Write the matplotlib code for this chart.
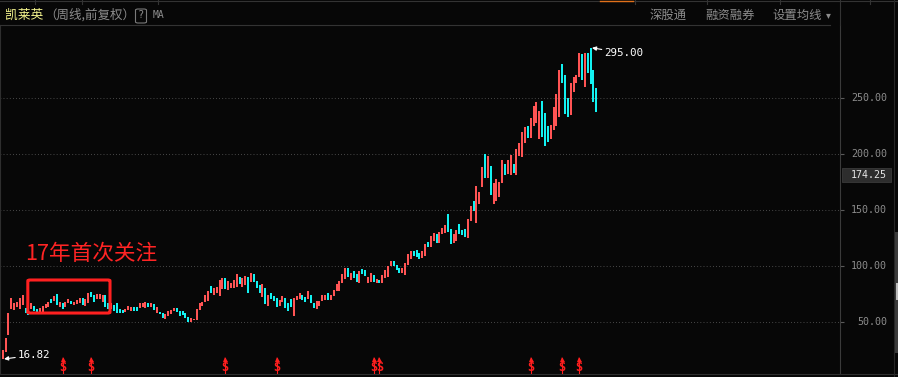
import matplotlib
matplotlib.use("Agg")
import matplotlib.pyplot as plt
import matplotlib.patches as mpatches
from matplotlib.lines import Line2D
import numpy as np

# ---------------- data (weekly, forward-adjusted) ----------------
opens = [16.82, 23, 38, 62, 61, 63, 62, 65, 62.5, 60, 61.6, 64, 61.3, 58.3, 58.9, 62.2, 63.7, 70.2, 69, 75,
         63.7, 66.6, 63.1, 66.6, 69, 65.2, 66, 66.6, 71.1, 64.2, 66.6, 77, 74.1, 70.2, 70.2, 68.1, 74.1, 67.2, 61.3, 65,
         66.6, 61.3, 60.7, 58.9, 60.7, 60.1, 63.1, 63.1, 62.1, 63.1, 62.1, 66.6, 63.7, 66.1, 58.3, 59.2, 58.3, 52.7, 55.7, 56.9,
         59.8, 62.8, 59.8, 59.8, 57.7, 54.8, 49.7, 51.5, 51.8, 60.7, 64.6, 68.2, 68.8, 82.2, 74.1, 75.6, 73.5, 79.5, 89, 78.6,
         80.7, 80.7, 81.6, 89.9, 81.6, 83, 89.9, 86, 92.9, 86.9, 83, 72.6, 80, 64.6, 75.6, 73.2, 71.7, 64.6, 67.6, 71.7,
         67.3, 70.5, 55.7, 69.7, 70.6, 74.1, 72.6, 70.3, 74.1, 67.3, 61.3, 64.3, 68.8, 69.7, 75.6, 69.7, 73.2, 77.7, 77.7, 85.1,
         88.4, 97.9, 87.5, 95.5, 92.9, 85.1, 97.3, 96.4, 85.1, 86, 92, 85.1, 87.5, 84.5, 89, 90.5, 100, 104.5, 100.9, 97.9,
         93.5, 92, 100.9, 106.3, 113.4, 114.3, 111.3, 107.4, 109.2, 121.7, 117.3, 122.3, 128.6, 120.8, 128.3, 129.2, 146.4, 133, 120.8, 122.3,
         137.5, 132.1, 133, 125, 140.5, 158, 138.7, 155.4, 170.8, 200, 178.9, 189.3, 155.4, 158.4, 161.6, 174.4, 191.1, 182.2, 181.3, 191.1,
         181.3, 198.3, 197.7, 209.6, 225, 214, 225.3, 228, 213.7, 247.4, 237, 225, 213, 221.4, 225, 233.4, 280.4, 270.6, 249.7, 235.1,
         255.7, 263.1, 268.5, 289.3, 259.5, 289.9, 295, 275, 258.6]
closes = [25, 36, 58, 71, 67, 68, 71, 74, 58, 56, 66.6, 60, 58.3, 62.1, 64.2, 66, 67.5, 67.2, 73.2, 65.2,
          68.1, 61.3, 68.1, 70.2, 66, 68.1, 69.6, 71.1, 65.2, 70.2, 75.6, 72.6, 68.1, 75, 75, 74.1, 63.7, 61.3, 66.6, 60,
          58.3, 57.7, 58.3, 61.3, 64.2, 63.1, 60.1, 60.1, 66.6, 66.6, 67.5, 63.7, 67.3, 60.7, 63.7, 57.5, 53.9, 57.2, 59.8, 60.7,
          62.8, 59.2, 55.7, 56.3, 53.3, 49.7, 53.9, 52.7, 61.3, 66.7, 68.2, 74.1, 77.7, 76.2, 80.7, 81.6, 87.5, 89, 79.5, 86.6,
          84.5, 87.5, 92.9, 83.9, 89, 91.1, 76.2, 93.5, 86, 80.7, 76.2, 83.9, 66.1, 74.1, 70.5, 68.8, 63.7, 69.7, 73.2, 62.8,
          60.1, 63.7, 71.7, 73.2, 76.2, 69.7, 67.6, 77.7, 66.7, 62.2, 68.8, 68.8, 74.1, 74.1, 69.7, 74.1, 78.6, 83.9, 86.6, 92.9,
          97.9, 90.5, 93.5, 89, 86, 95.5, 92.6, 91.4, 89.9, 93.5, 85.4, 88.1, 85.1, 92, 96.4, 100, 104.8, 100.3, 96.4, 94.1,
          97.9, 102.4, 110.4, 113.4, 108.9, 108.3, 106.3, 113.4, 119.4, 117.3, 127.1, 129.8, 120.8, 130.1, 134.2, 136.6, 130.1, 119.7, 128.6, 132.1,
          128.6, 127.7, 125.9, 142, 153.6, 149.4, 171.4, 166, 188.4, 178.9, 198.3, 163.4, 174.1, 178, 175, 194.7, 181.3, 194.7, 199.1, 183.4,
          204.5, 209.6, 220, 224.1, 214, 231.9, 242.9, 246.5, 238.4, 215.5, 207.5, 211, 225.9, 242.3, 253.6, 275, 263.7, 235.7, 232.8, 263.7,
          268.5, 270.6, 290.5, 266.1, 290.5, 272, 262.2, 246.7, 237.8]
signal_weeks = [21, 31, 78, 96, 130, 132, 185, 196, 202]
yticks = [50, 100, 150, 200, 250]
last_price = 174.25
stock_name = "凯莱英"
period_note = "（周线,前复权）"
menu_items = ["深股通", "融资融券", "设置均线"]
note_text = "17年首次关注"

# ---------------- figure ----------------
W, H = 898, 377
BG = "#070707"
UP = "#ff5454"
DOWN = "#12f2f2"
GRAY = "#8c8c8c"

fig = plt.figure(figsize=(W / 100, H / 100), dpi=100, facecolor=BG)

def fx(px):
    return px / W

def fy(py):
    return 1 - py / H

ax_top_px, ax_bot_px, ax_right_px = 25, 374, 840
ax = fig.add_axes([0, fy(ax_bot_px), fx(ax_right_px), (ax_bot_px - ax_top_px) / H])
ax.set_facecolor(BG)

# pixel scale: value 50 at y=322, 56 px per 50
def val_at(py):
    return 50 + (322 - py) / 1.12

ax.set_ylim(val_at(ax_bot_px), val_at(ax_top_px))
step = 2.854
x0px = 2.7
ax.set_xlim((0 - x0px) / step, (ax_right_px - x0px) / step)

o = np.array(opens, dtype=float)
c = np.array(closes, dtype=float)
x = np.arange(len(o))
cols = [UP if cc >= oo else DOWN for oo, cc in zip(o, c)]
ax.vlines(x, np.minimum(o, c), np.maximum(o, c), colors=cols, lw=1.3, zorder=3, antialiased=False)

# grid
for t in yticks:
    ax.axhline(t, color="#5a5a5a", lw=0.75, dashes=(0.7, 2.3), zorder=1)

ax.spines["top"].set_visible(False)
ax.spines["right"].set_color("#3a3a3a")
ax.spines["left"].set_color("#2e2e2e")
ax.spines["bottom"].set_color("#2e2e2e")
ax.set_xticks([])
ax.yaxis.tick_right()
ax.set_yticks(yticks)
ax.set_yticklabels([])
ax.tick_params(axis="y", length=3, color="#5a5a5a", direction="out")

# right axis labels
blend = matplotlib.transforms.blended_transform_factory(fig.transFigure, ax.transData)
for t in yticks:
    fig.text(fx(887), t, f"{t:.2f}", transform=blend, ha="right", va="center",
             color=GRAY, fontsize=7.2, family="DejaVu Sans Mono")

# last price tag
fig.patches.append(mpatches.Rectangle((fx(842), fy(182)), fx(49), 14 / H, transform=fig.transFigure,
                                      facecolor="#2d2d2d", edgecolor="#3a3a3a", lw=0.6))
fig.text(fx(887), fy(175), f"{last_price:.2f}", ha="right", va="center",
         color="#e6e6e6", fontsize=7.2, family="DejaVu Sans Mono")

# max / min annotations
imax = int(np.argmax(np.maximum(o, c)))
vmax = float(np.maximum(o, c)[imax])
ax.annotate(f"{vmax:.2f}", xy=(imax, vmax), xytext=(10, -4), textcoords="offset points",
            ha="left", va="center", color="white", fontsize=7.8, family="DejaVu Sans Mono",
            arrowprops=dict(arrowstyle="-|>", color="white", lw=0.8, shrinkA=0, shrinkB=1,
                            mutation_scale=6))
imin = int(np.argmin(np.minimum(o, c)))
vmin = float(np.minimum(o, c)[imin])
ax.annotate(f"{vmin:.2f}", xy=(imin, vmin), xytext=(11, 3), textcoords="offset points",
            ha="left", va="center", color="white", fontsize=7.8, family="DejaVu Sans Mono",
            arrowprops=dict(arrowstyle="-|>", color="white", lw=0.8, shrinkA=0, shrinkB=1,
                            mutation_scale=6))

# signal markers along the bottom
tr = matplotlib.transforms.blended_transform_factory(ax.transData, ax.transAxes)
for i in signal_weeks:
    ax.text(i, 0.02, "S", transform=tr, ha="center", va="center", color="#ff1e1e",
            fontsize=8.5, fontweight="bold", family="DejaVu Sans Mono", zorder=5)
    ax.plot([i, i], [0.0, 0.045], transform=tr, color="#ff1e1e", lw=0.8, zorder=5)
    ax.plot([i], [0.042], transform=tr, marker="^", color="#ff1e1e", ms=3.6, mew=0, zorder=5)

# red note and box
ax.add_patch(mpatches.FancyBboxPatch((8.8, 58.0), 28.8, 29.5, boxstyle="round,pad=0,rounding_size=0.8",
                                     fill=False, edgecolor="#ff2020", lw=2.2, zorder=6))
ax.text(7.8, 110.7, note_text, color="#ff2424", fontsize=15.6, ha="left", va="center",
        family=["Noto Sans CJK SC", "DejaVu Sans"], zorder=6)

# header
CJK = ["Noto Sans CJK SC", "DejaVu Sans"]
fig.text(fx(5), fy(15), stock_name, color="#f4f48c", fontsize=9.2, family=CJK, va="center", ha="left")
fig.text(fx(44), fy(15), period_note, color=GRAY, fontsize=9.0, family=CJK, va="center", ha="left")
fig.patches.append(mpatches.FancyBboxPatch((fx(135.5), fy(23)), fx(11), 14 / H, transform=fig.transFigure,
                                           boxstyle="round,pad=0,rounding_size=0.003",
                                           facecolor="none", edgecolor="#7a7a7a", lw=0.8))
fig.text(fx(141), fy(15.5), "?", color=GRAY, fontsize=7.5, family="DejaVu Sans Mono", va="center", ha="center")
fig.text(fx(153), fy(15.5), "MA", color=GRAY, fontsize=7, family="DejaVu Sans Mono", va="center", ha="left")
for label, px in zip(menu_items, [650, 705, 772]):
    fig.text(fx(px), fy(15), label, color=GRAY, fontsize=8.9, family=CJK, va="center", ha="left")
fig.text(fx(828), fy(15.5), "▾", color=GRAY, fontsize=7, family="DejaVu Sans", va="center", ha="center")

# frame lines
fig.lines.append(Line2D([0, fx(830)], [fy(24.5), fy(24.5)], transform=fig.transFigure, color="#333333", lw=0.8))
fig.lines.append(Line2D([0, 1], [fy(1), fy(1)], transform=fig.transFigure, color="#333333", lw=0.8))
fig.lines.append(Line2D([fx(600), fx(633)], [fy(1), fy(1)], transform=fig.transFigure, color="#e0701a", lw=1.0))
for px in [35, 82, 158, 635, 707, 780, 870]:
    fig.lines.append(Line2D([fx(px), fx(px)], [fy(0), fy(4)], transform=fig.transFigure, color="#333333", lw=0.8))
fig.lines.append(Line2D([fx(840), fx(840)], [fy(0), fy(ax_top_px)], transform=fig.transFigure, color="#333333", lw=0.8))
fig.lines.append(Line2D([fx(840), fx(898)], [fy(ax_bot_px), fy(ax_bot_px)], transform=fig.transFigure, color="#2e2e2e", lw=0.8))

# scrollbar
fig.lines.append(Line2D([fx(893.5), fx(893.5)], [fy(0), fy(377)], transform=fig.transFigure, color="#262626", lw=0.8))
fig.patches.append(mpatches.Rectangle((fx(894), fy(353)), fx(4), 121 / H, transform=fig.transFigure,
                                      facecolor="#3c3c3c", edgecolor="none"))
fig.patches.append(mpatches.Rectangle((fx(896), fy(300)), fx(2), 17 / H, transform=fig.transFigure,
                                      facecolor="#bbbbbb", edgecolor="none"))

fig.savefig("out.png", dpi=100, facecolor=BG)
